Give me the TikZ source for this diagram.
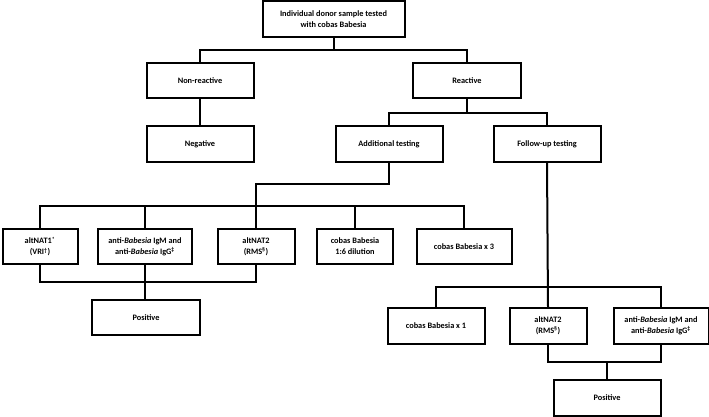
\documentclass[tikz,border=0pt]{standalone}
\usepackage{fontspec}
\setmainfont{Carlito}
\usepackage{tikz}

\begin{document}
\begin{tikzpicture}[
    x=1pt, y=-1pt,
    line width=2pt,
    every node/.style={font=\bfseries\fontsize{8.3}{11}\selectfont},
    box/.style={
        draw,
        rectangle,
        align=center,
        inner sep=1pt,
        minimum width=#1,
        minimum height=35pt
    },
    box/.default=107pt
]
\useasboundingbox (0,0) rectangle (709,417);

% first levels
\node[box=142pt, minimum height=36pt] (sample) at (333.5,19) {Individual donor sample tested\\with cobas Babesia};
\node[box] (nonreact) at (200,81) {Non-reactive};
\node[box=108pt] (react) at (467,81) {Reactive};
\node[box] (negative) at (200,144) {Negative};
\node[box] (addl) at (389,144) {Additional testing};
\node[box] (follow) at (547,144) {Follow-up testing};

% additional testing
\node[box=75pt] (altA) at (40,246.5) {altNAT1\textsuperscript{*}\\(VRI\textsuperscript{†})};
\node[box=94pt] (antiA) at (145,246.5) {anti-\textit{Babesia} IgM and\\anti-\textit{Babesia} IgG\textsuperscript{‡}};
\node[box=77pt] (altB) at (256,246.5) {altNAT2\\(RMS\textsuperscript{§})};
\node[box=76pt] (dilution) at (355,246.5) {cobas Babesia\\1:6 dilution};
\node[box=95pt] (cobasC) at (464,246.5) {cobas Babesia x 3};
\node[box=108pt] (posA) at (146,317.5) {Positive};

% follow-up testing
\node[box=97pt, minimum height=36pt] (cobasD) at (436,326) {cobas Babesia x 1};
\node[box=77pt, minimum height=36pt] (altC) at (548,326) {altNAT2\\(RMS\textsuperscript{§})};
\node[box=95pt, minimum height=36pt] (antiB) at (661,326) {anti-\textit{Babesia} IgM and\\anti-\textit{Babesia} IgG\textsuperscript{‡}};
\node[box, minimum height=36pt] (posB) at (607,398) {Positive};

% junctions
\coordinate (j1) at (333.5,50);
\coordinate (j2) at (467,113);
\coordinate (j3) at (256,184);
\coordinate (j4) at (256,206);
\coordinate (j5) at (145,282);
\coordinate (j6) at (548,287);
\coordinate (j7) at (607,362);

% connectors
\draw (sample.south) -- (j1);
\draw (nonreact.north) |- (j1) -| (react.north);
\draw (nonreact.south) -- (negative.north);
\draw (react.south) -- (j2);
\draw (addl.north) |- (j2) -| (follow.north);

\draw (addl.south) |- (j3) -- (j4);
\draw (altA.north) |- (j4) -| (cobasC.north);
\draw (antiA.north) -- (antiA.north |- j4);
\draw (altB.north) -- (j4);
\draw (dilution.north) -- (dilution.north |- j4);
\draw (altA.south) |- (j5) -| (altB.south);
\draw (antiA.south) -- (j5) -- (posA.north -| j5);

\draw (follow.south) -- (altC.north);
\draw (cobasD.north) |- (j6) -| (antiB.north);
\draw (altC.south) |- (j7) -| (antiB.south);
\draw (j7) -- (posB.north);
\end{tikzpicture}
\end{document}
